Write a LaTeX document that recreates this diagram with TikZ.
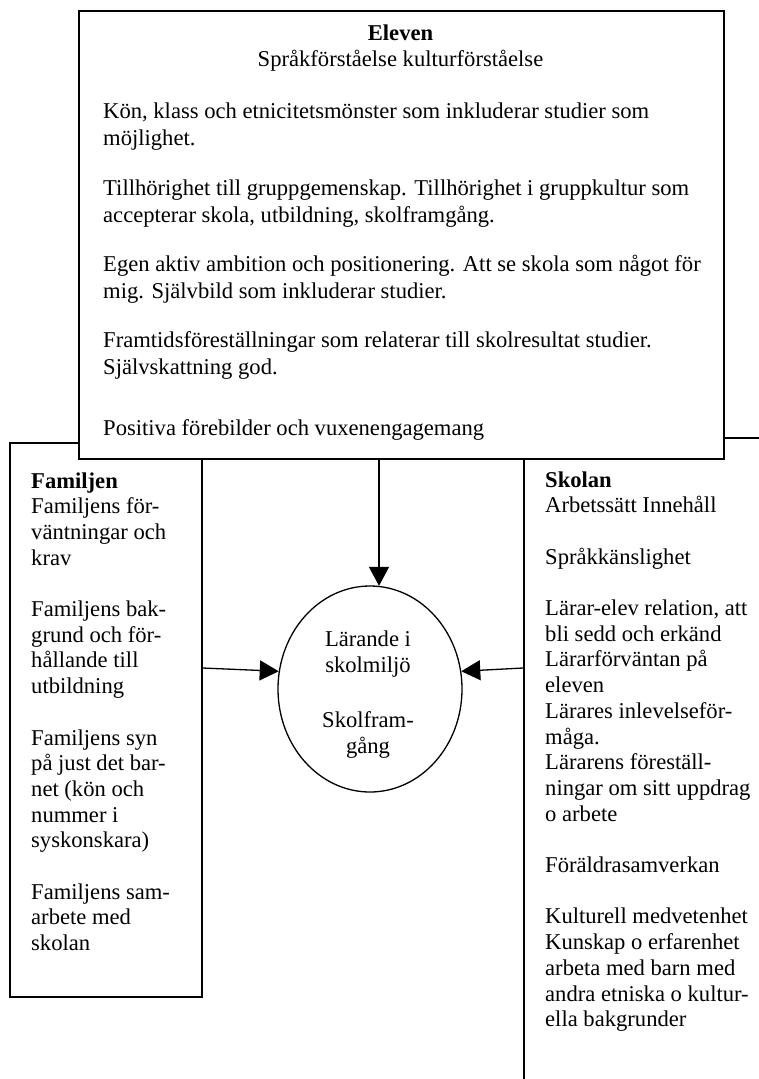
\documentclass[tikz,border=0pt]{standalone}
\usepackage{fontspec}
\setmainfont{Liberation Serif}
\usetikzlibrary{arrows.meta,shapes.geometric}
\begin{document}
\begin{tikzpicture}[x=1pt,y=-1pt,
  box/.style={draw, line width=1.6pt, rectangle, inner sep=0pt, anchor=north west},
  txt/.style={anchor=base west, align=left, inner sep=0pt, font=\fontsize{22.6}{25.7}\selectfont},
  ttxt/.style={anchor=base west, align=left, inner sep=0pt, font=\fontsize{22.6}{27}\selectfont},
  arr/.style={line width=1.3pt, -{Triangle[length=19pt,width=20pt]}}]
\useasboundingbox (0,0) rectangle (759,1079);
\clip (0,0) rectangle (759,1079);
% side boxes
\node[box, minimum width=192pt, minimum height=554pt] (fam) at (9,442) {};
\node[box, minimum width=260pt, minimum height=680pt] (skol) at (523,437) {};
% top box
\node[box, fill=white, minimum width=645pt, minimum height=448pt] (eleven) at (78,10) {};
% top texts (anchor = baseline of last line)
\node[ttxt, anchor=base, font=\fontsize{22.6}{27}\selectfont\bfseries] (et) at (400.5,40) {Eleven};
\node[ttxt, anchor=base] (es) at (400.5,66) {Språkförståelse kulturförståelse};
\node[ttxt] (e1) at (103,145) {Kön, klass och etnicitetsmönster som inkluderar studier som\\möjlighet.};
\node[ttxt] (e2) at (103,222) {Tillhörighet till gruppgemenskap. Tillhörighet i gruppkultur som\\accepterar skola, utbildning, skolframgång.};
\node[ttxt] (e3) at (103,298) {Egen aktiv ambition och positionering. Att se skola som något för\\mig. Självbild som inkluderar studier.};
\node[ttxt] (e4) at (103,374) {Framtidsföreställningar som relaterar till skolresultat studier.\\Självskattning god.};
\node[ttxt] (e5) at (103,435) {Positiva förebilder och vuxenengagemang};
% left text
\node[txt] (ft) at (31,950.6) {\textbf{Familjen}\\Familjens för-\\väntningar och\\krav\\[25.7pt]
Familjens bak-\\grund och för-\\hållande till\\utbildning\\[25.7pt]
Familjens syn\\på just det bar-\\net (kön och\\nummer i\\syskonskara)\\[25.7pt]
Familjens sam-\\arbete med\\skolan};
% right text
\node[txt] (st) at (545,1026.7) {\textbf{Skolan}\\Arbetssätt Innehåll\\[25.7pt]
Språkkänslighet\\[25.7pt]
Lärar-elev relation, att\\bli sedd och erkänd\\Lärarförväntan på\\eleven\\Lärares inlevelseför-\\måga.\\Lärarens föreställ-\\ningar om sitt uppdrag\\o arbete\\[25.7pt]
Föräldrasamverkan\\[25.7pt]
Kulturell medvetenhet\\Kunskap o erfarenhet\\arbeta med barn med\\andra etniska o kultur-\\ella bakgrunder};
% ellipse
\node[draw, ellipse, line width=1.3pt, minimum width=184pt, minimum height=206pt, inner sep=0pt] (lar) at (370,689) {};
\node[txt, align=center, anchor=base] (lt) at (368,753) {Lärande i\\skolmiljö\\[29pt]Skolfram-\\gång};
% arrows
\coordinate (ya) at (0,668);
\draw[arr] (eleven.south -| lar.85) -- (lar.85);
\draw[arr] (fam.east |- ya) -- (lar.169);
\draw[arr] (skol.west |- ya) -- (lar.11);
\end{tikzpicture}
\end{document}
